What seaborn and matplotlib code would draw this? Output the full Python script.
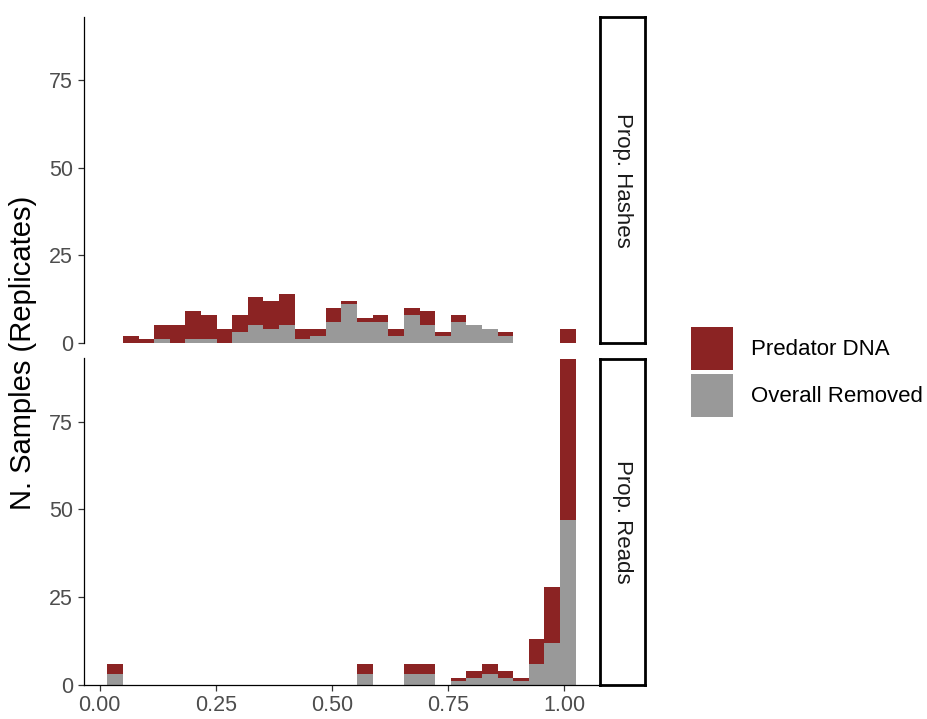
import numpy as np
import pandas as pd
import matplotlib
matplotlib.use("Agg")
import matplotlib.pyplot as plt
from matplotlib.patches import Patch
import seaborn as sns

# ---------------- data ----------------
BIN_WIDTH = 0.0336                 # histogram bin width (30 bins)
bin_index = list(range(1, 31))     # bin k is centred at k * BIN_WIDTH

facets = ["Prop. Hashes", "Prop. Reads"]
series = ["Predator DNA", "Overall Removed"]
colors = ["#8B2323", "#999999"]

# Prop. Hashes facet (counts per bin, stacked)
hashes_predator = [0, 2, 1, 4, 5, 8, 7, 4, 5, 8, 8, 9, 3, 2, 4, 1, 1, 2, 2, 2, 4, 1, 2, 0, 0, 1, 0, 0, 0, 4]
hashes_removed  = [0, 0, 0, 1, 0, 1, 1, 0, 3, 5, 4, 5, 1, 2, 6, 11, 6, 6, 2, 8, 5, 2, 6, 5, 4, 2, 0, 0, 0, 0]

# Prop. Reads facet
reads_predator = [3, 0, 0, 0, 0, 0, 0, 0, 0, 0, 0, 0, 0, 0, 0, 0, 3, 0, 0, 3, 3, 0, 1, 2, 3, 2, 1, 7, 16, 46]
reads_removed  = [3, 0, 0, 0, 0, 0, 0, 0, 0, 0, 0, 0, 0, 0, 0, 0, 3, 0, 0, 3, 3, 0, 1, 2, 3, 2, 1, 6, 12, 47]

x_ticks = [0.0, 0.25, 0.5, 0.75, 1.0]
x_tick_labels = ["0.00", "0.25", "0.50", "0.75", "1.00"]
y_ticks = [0, 25, 50, 75]
y_label = "N. Samples (Replicates)"

# ---------------- build table ----------------
centers = np.array(bin_index, dtype=float) * BIN_WIDTH
edges = [float(e) for e in (np.arange(31) + 0.5) * BIN_WIDTH]

def long_table(pred, rem):
    return pd.DataFrame({
        "value": np.concatenate([centers, centers]),
        "count": np.concatenate([np.asarray(pred, float), np.asarray(rem, float)]),
        "series": [series[0]] * len(pred) + [series[1]] * len(rem),
    })

tables = {
    "Prop. Hashes": long_table(hashes_predator, hashes_removed),
    "Prop. Reads": long_table(reads_predator, reads_removed),
}

# ---------------- figure ----------------
sns.set_style("white")
plt.rcParams["font.family"] = ["Liberation Sans", "DejaVu Sans"]

W, H = 927, 719
fig = plt.figure(figsize=(W / 100, H / 100), dpi=100)

def fx(px):
    return px / W

def fy(py):
    return 1 - py / H

left, right = 84, 599
panels = {"Prop. Hashes": (17, 343), "Prop. Reads": (358.5, 685)}

span = edges[-1] - edges[0]
xlim = (edges[0] - 0.05 * span, edges[-1] + 0.05 * span)
ymax = 93

tick_color = "#333333"
label_color = "#4D4D4D"

for i, facet in enumerate(facets):
    top, bot = panels[facet]
    ax = fig.add_axes([fx(left), fy(bot), fx(right - left), (bot - top) / H])
    sns.histplot(data=tables[facet], x="value", weights="count", hue="series",
                 hue_order=series, palette=dict(zip(series, colors)),
                 multiple="stack", bins=edges, stat="count", alpha=1,
                 linewidth=0, edgecolor="none", legend=False, ax=ax)
    ax.set_xlim(*xlim)
    ax.set_ylim(0, ymax)
    ax.set_xlabel("")
    ax.set_ylabel("")
    ax.set_facecolor("white")
    for s in ["top", "right"]:
        ax.spines[s].set_visible(False)
    ax.spines["left"].set_color("black")
    ax.spines["left"].set_linewidth(0.9)
    ax.set_yticks(y_ticks)
    ax.set_yticklabels([str(v) for v in y_ticks])
    ax.tick_params(axis="y", left=True, length=4.5, width=0.9, color=tick_color,
                   labelcolor=label_color, labelsize=15.5, pad=3.5)
    ax.set_xticks(x_ticks)
    if i == len(facets) - 1:
        ax.spines["bottom"].set_color("black")
        ax.spines["bottom"].set_linewidth(0.9)
        ax.set_xticklabels(x_tick_labels)
        ax.tick_params(axis="x", bottom=True, length=4.5, width=0.9, color=tick_color,
                       labelcolor=label_color, labelsize=15.5, pad=3)
    else:
        ax.spines["bottom"].set_visible(False)
        ax.tick_params(axis="x", bottom=False, labelbottom=False)

    # facet strip on the right
    sax = fig.add_axes([fx(right + 1), fy(bot), fx(45), (bot - top) / H])
    sax.set_xticks([])
    sax.set_yticks([])
    sax.set_facecolor("white")
    for s in sax.spines.values():
        s.set_visible(True)
        s.set_color("black")
        s.set_linewidth(2.0)
    sax.text(0.5, 0.5, facet, rotation=270, ha="center", va="center",
             fontsize=16, color="#1A1A1A", transform=sax.transAxes)

fig.text(fx(23), fy(353), y_label, rotation=90, ha="center", va="center",
         fontsize=21, color="black")

handles = [Patch(facecolor=c, edgecolor="none") for c in colors]
fig.legend(handles, series, loc="center left", bbox_to_anchor=(fx(691), fy(371.5)),
           frameon=False, fontsize=16, handlelength=1.9, handleheight=2.6,
           handletextpad=0.8, labelspacing=0.18, borderpad=0, borderaxespad=0,
           labelcolor="black")

fig.savefig("out.png", dpi=100, facecolor="white")
